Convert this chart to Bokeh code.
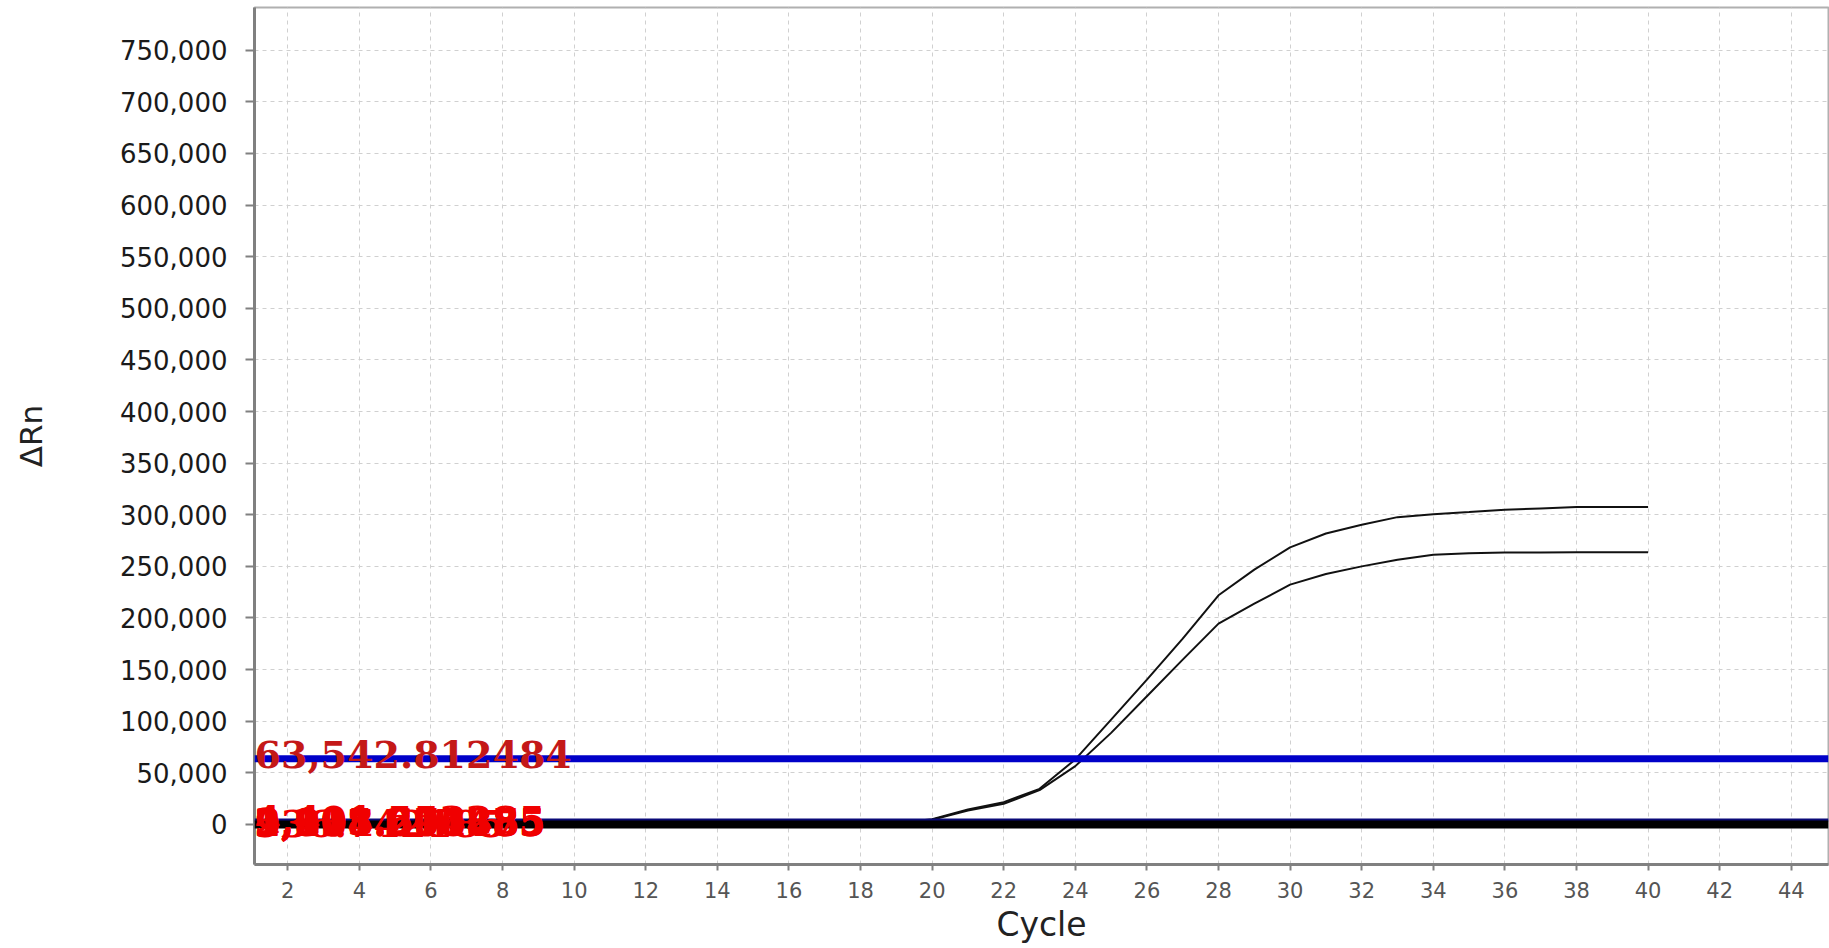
from bokeh.plotting import figure
from bokeh.models import Span, FixedTicker, NumeralTickFormatter, ColumnDataSource, Range1d
from bokeh.core.properties import value
from bokeh.embed import file_html
from bokeh.resources import INLINE

# ---------------- data ----------------
cycles = list(range(1, 41))
well_upper = [0, 0, 0, 0, 0, 0, 0, 0, 0, 0, 0, 0, 0, 0, 0, 0,
              200, 600, 1500, 5000, 14500, 21600, 34500, 63000, 101600,
              140300, 180000, 222000, 246800, 268400, 281900, 290300,
              297700, 300600, 302600, 304800, 306100, 307400, 307600, 307600]
well_lower = [0, 0, 0, 0, 0, 0, 0, 0, 0, 0, 0, 0, 0, 0, 0, 0,
              200, 500, 1300, 4500, 13500, 20000, 33200, 56500, 88700,
              124200, 159700, 194500, 213900, 232300, 242600, 250000,
              256500, 261300, 262600, 263500, 263500, 263600, 263600, 263600]
threshold = 63542.812484
baseline_thresholds = [4401.553285, 2915.674385, 1837.206485, 3108.295875, 936.742185, 2204.611485]
navy_level = 4400
x_ticks = list(range(2, 46, 2))
y_ticks = list(range(0, 800000, 50000))
x_title = "Cycle"
y_title = "ΔRn"

# ---------------- figure ----------------
x0, x1 = 1.07, 45.04
y0, y1 = -38800, 791400
p = figure(width=1829, height=948, output_backend="svg", toolbar_location=None,
           x_range=Range1d(x0, x1), y_range=Range1d(y0, y1),
           min_border_left=254, min_border_right=1, min_border_top=7, min_border_bottom=84,
           background_fill_color="white", border_fill_color="white")

p.outline_line_color = "#b0b0b0"
p.outline_line_width = 2

for g in (p.xgrid, p.ygrid):
    g.grid_line_color = "#d0d0d0"
    g.grid_line_dash = "4 4"
    g.grid_line_width = 1

p.xaxis.ticker = FixedTicker(ticks=x_ticks)
p.yaxis.ticker = FixedTicker(ticks=y_ticks)
p.yaxis.formatter = NumeralTickFormatter(format="0,0")

for ax in (p.xaxis, p.yaxis):
    ax.axis_line_color = "#808080"
    ax.axis_line_width = 3
    ax.major_tick_line_color = "#808080"
    ax.major_tick_line_width = 2
    ax.major_tick_in = 0
    ax.minor_tick_line_color = None
    ax.major_label_text_font = "DejaVu Sans"
    ax.axis_label_text_font = "DejaVu Sans"
    ax.axis_label_text_font_style = "normal"
    ax.axis_label_text_color = "#222222"

p.yaxis.major_tick_out = 9
p.yaxis.major_label_standoff = 18
p.yaxis.major_label_text_font_size = "26px"
p.yaxis.major_label_text_color = "#1a1a1a"
p.yaxis.axis_label = y_title
p.yaxis.axis_label_text_font_size = "31px"
p.yaxis.axis_label_standoff = 68

p.xaxis.major_tick_out = 6
p.xaxis.major_label_standoff = 11
p.xaxis.major_label_text_font_size = "21px"
p.xaxis.major_label_text_color = "#555555"
p.xaxis.axis_label = x_title
p.xaxis.axis_label_text_font_size = "33px"
p.xaxis.axis_label_standoff = 4

# amplification curves
p.line(cycles, well_upper, line_color="#111111", line_width=2)
p.line(cycles, well_lower, line_color="#111111", line_width=2)

# threshold / baseline lines
p.add_layout(Span(location=navy_level, dimension="width", line_color="#0a0a78", line_width=3))
p.add_layout(Span(location=0, dimension="width", line_color="#000000", line_width=8))
p.add_layout(Span(location=threshold, dimension="width", line_color="#0000c8", line_width=7))

# threshold labels
src_main = ColumnDataSource(dict(x=[x0], y=[threshold], t=[f"{threshold:,.6f}"]))
r1 = p.text(x="x", y="y", text="t", source=src_main, text_color="#c41818",
            text_font=value("DejaVu Serif"), text_font_style="bold", text_font_size="38px",
            text_baseline="alphabetic", text_align="left", y_offset=-4)
r1.level = "overlay"

src_base = ColumnDataSource(dict(x=[x0] * len(baseline_thresholds), y=baseline_thresholds,
                                 t=[f"{v:,.6f}" for v in baseline_thresholds]))
r2 = p.text(x="x", y="y", text="t", source=src_base, text_color="#f00000",
            text_font=value("DejaVu Serif"), text_font_style="bold", text_font_size="38px",
            text_baseline="alphabetic", text_align="left", y_offset=0)
r2.level = "overlay"

open("out.html", "w").write(file_html(p, INLINE))
